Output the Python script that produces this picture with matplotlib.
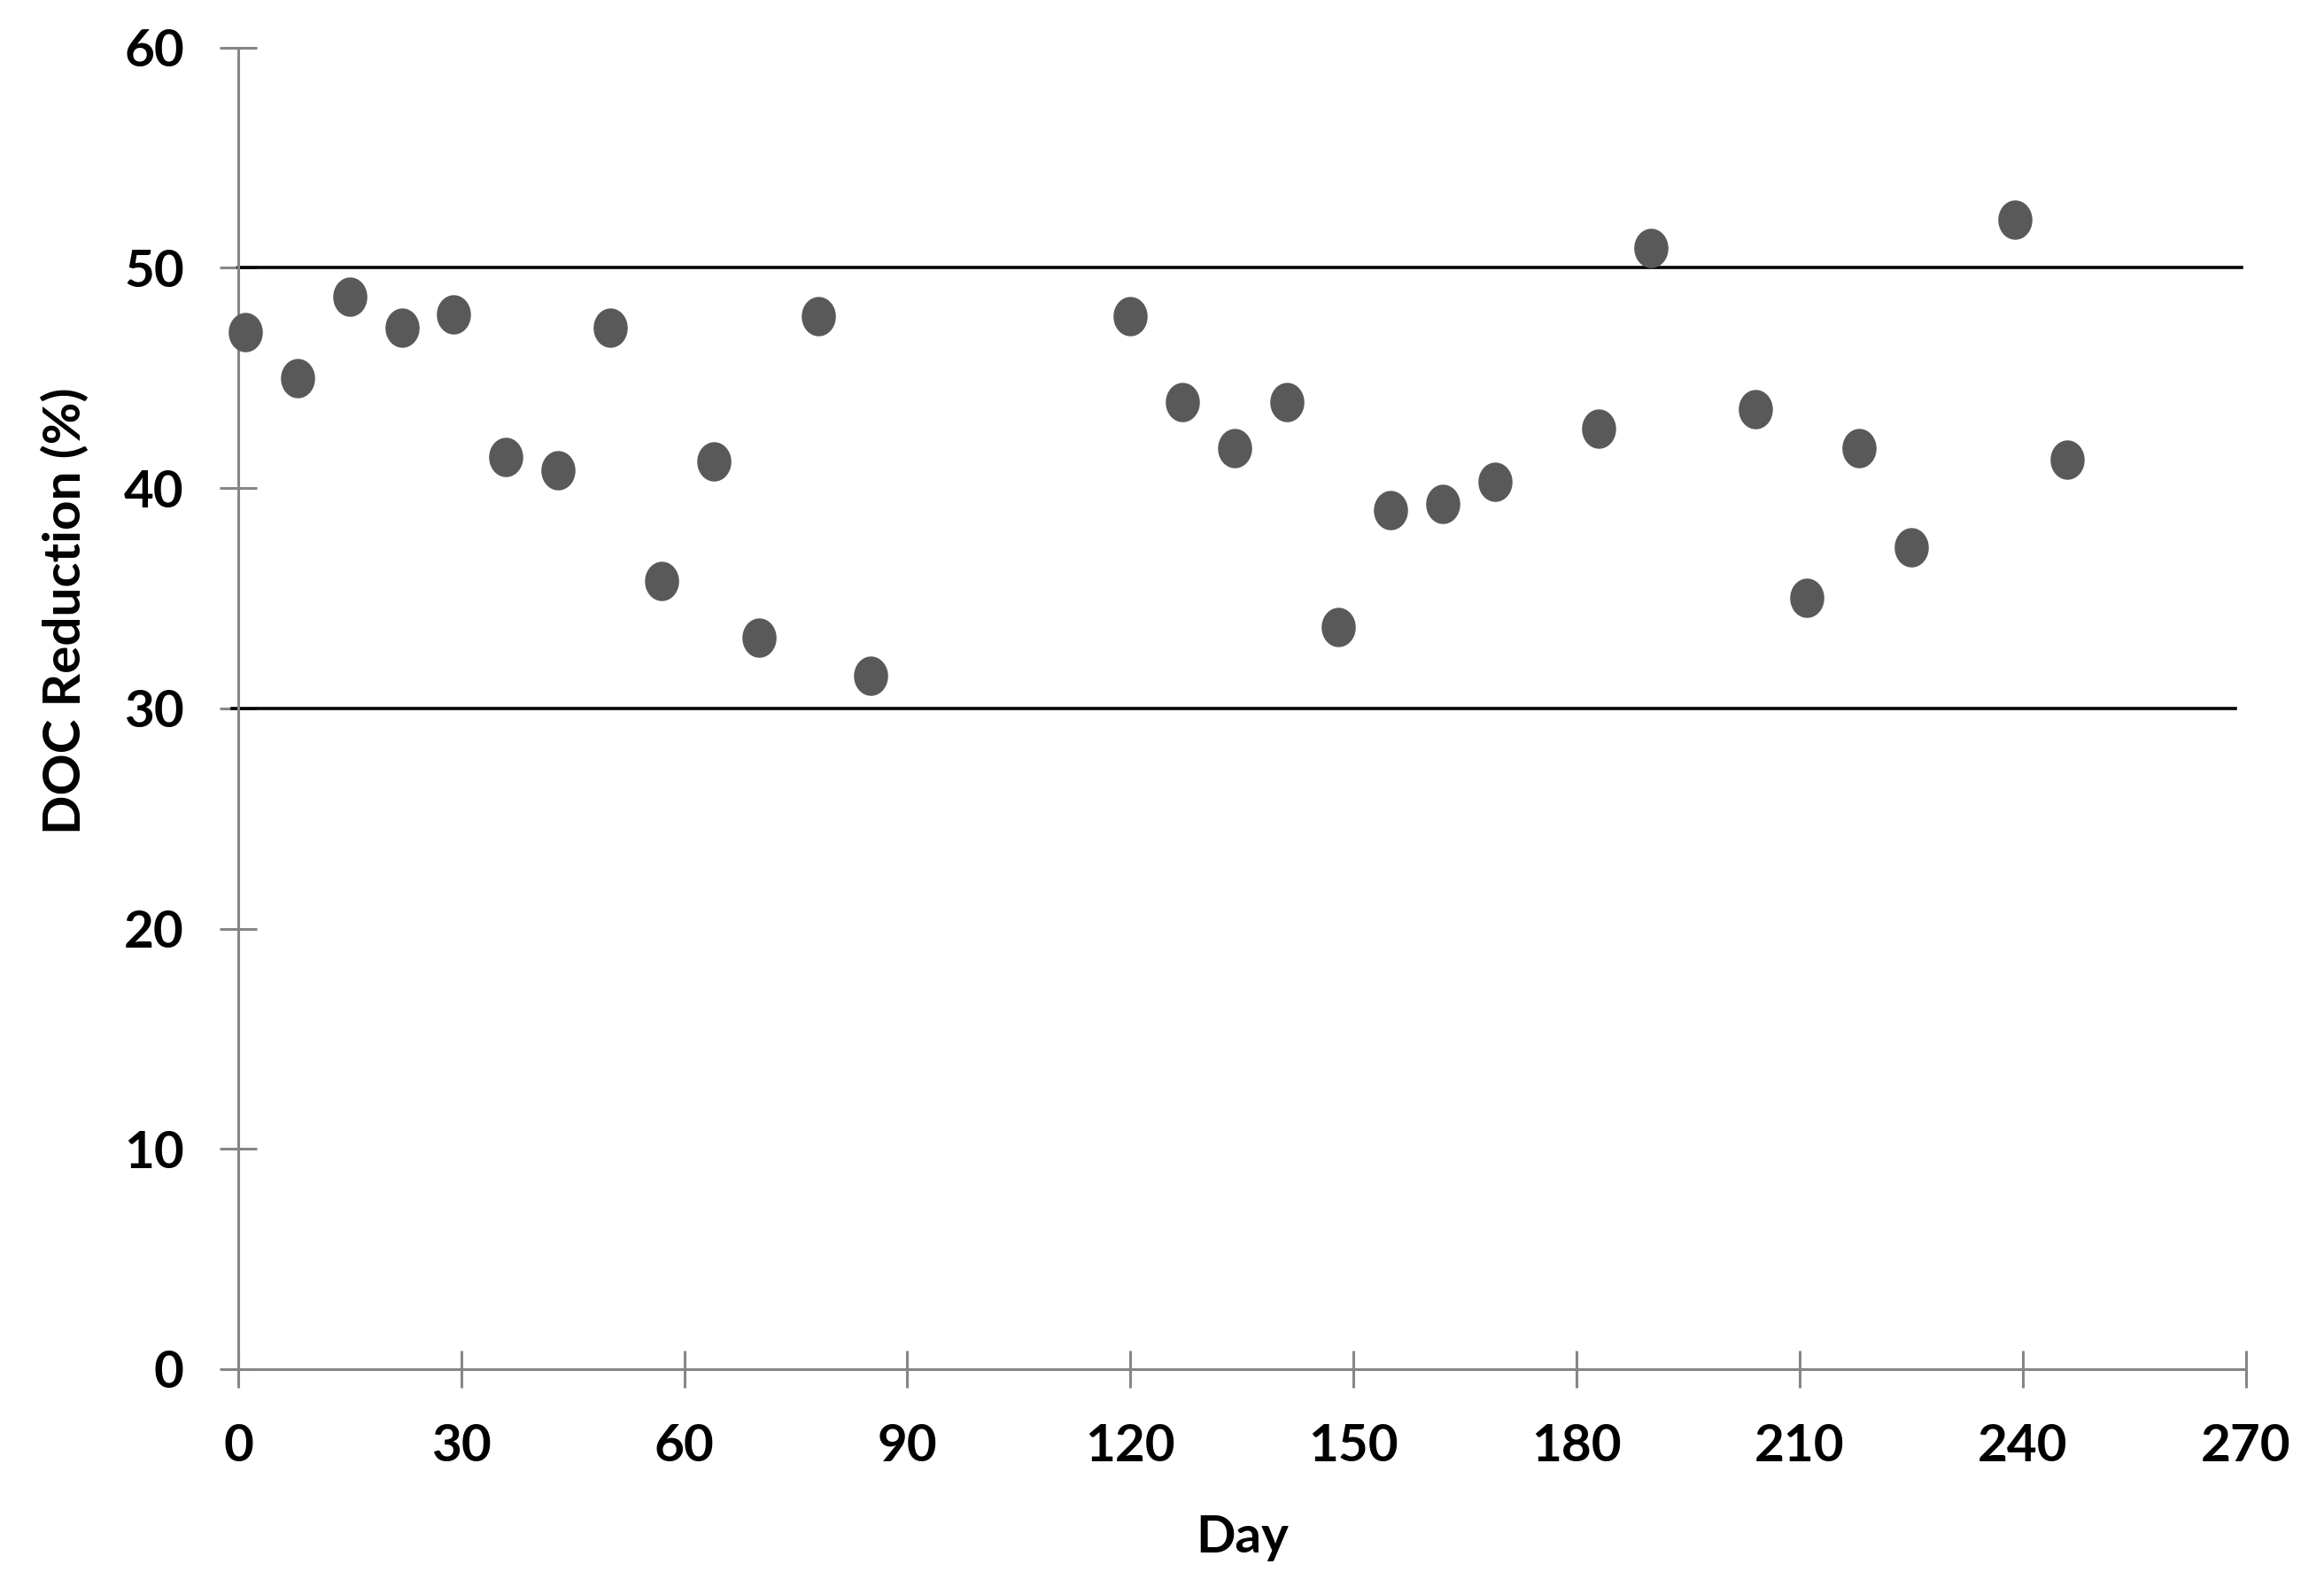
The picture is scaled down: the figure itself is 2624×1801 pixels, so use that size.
import numpy as np
import matplotlib.pyplot as plt
from matplotlib.path import Path

# Data
days = [1, 8, 15, 22, 29, 36, 43, 50, 57, 64, 70, 78, 85,
        120, 127, 134, 141, 148, 155, 162, 169, 183, 190,
        204, 211, 218, 225, 239, 246]
doc_reduction = [47.1, 45.0, 48.7, 47.3, 47.9, 41.4, 40.8, 47.3, 35.8, 41.2, 33.2, 47.8, 31.5,
                 47.8, 43.9, 41.8, 43.9, 33.7, 39.0, 39.3, 40.3, 42.7, 50.9,
                 43.6, 35.0, 41.8, 37.3, 52.2, 41.3]

# Target band limits
upper_days = [0, 269.4]
upper_limit = [50, 50]
lower_days = [-0.8, 268.6]
lower_limit = [30, 30]

x_ticks = [0, 30, 60, 90, 120, 150, 180, 210, 240, 270]
y_ticks = [0, 10, 20, 30, 40, 50, 60]

plt.rcParams['font.family'] = ['Lato', 'DejaVu Sans']
plt.rcParams['font.weight'] = 'bold'

# Slightly tall ellipse marker, as in the original
t = np.linspace(0, 2 * np.pi, 60)
ellipse = Path(np.column_stack([np.cos(t), 1.16 * np.sin(t)]), closed=True)

fig = plt.figure(figsize=(26.24, 18.01), dpi=100)
ax = fig.add_axes([0.1025, 0.1416, 0.8638, 0.8286])

ax.plot(upper_days, upper_limit, color='black', lw=2.6, clip_on=False, zorder=2)
ax.plot(lower_days, lower_limit, color='black', lw=2.6, clip_on=False, zorder=2)
ax.plot(days, doc_reduction, ls='none', marker=ellipse, markersize=31,
        color='#595959', clip_on=False, zorder=3)

ax.set_xlim(0, 270)
ax.set_ylim(0, 60)
ax.set_xticks(x_ticks)
ax.set_yticks(y_ticks)

for side in ['top', 'right']:
    ax.spines[side].set_visible(False)
for side in ['left', 'bottom']:
    ax.spines[side].set_color('#868686')
    ax.spines[side].set_linewidth(2.2)

ax.tick_params(axis='both', direction='inout', length=30, width=2.2,
               color='#868686', labelsize=42, pad=29)

ax.set_xlabel('Day', fontsize=42, fontweight='bold')
ax.set_ylabel('DOC Reduction (%)', fontsize=42, fontweight='bold')
ax.xaxis.set_label_coords(0.5, -0.11)
ax.yaxis.set_label_coords(-0.074, 0.574)

fig.savefig('out.png', dpi=100)
plt.close(fig)
